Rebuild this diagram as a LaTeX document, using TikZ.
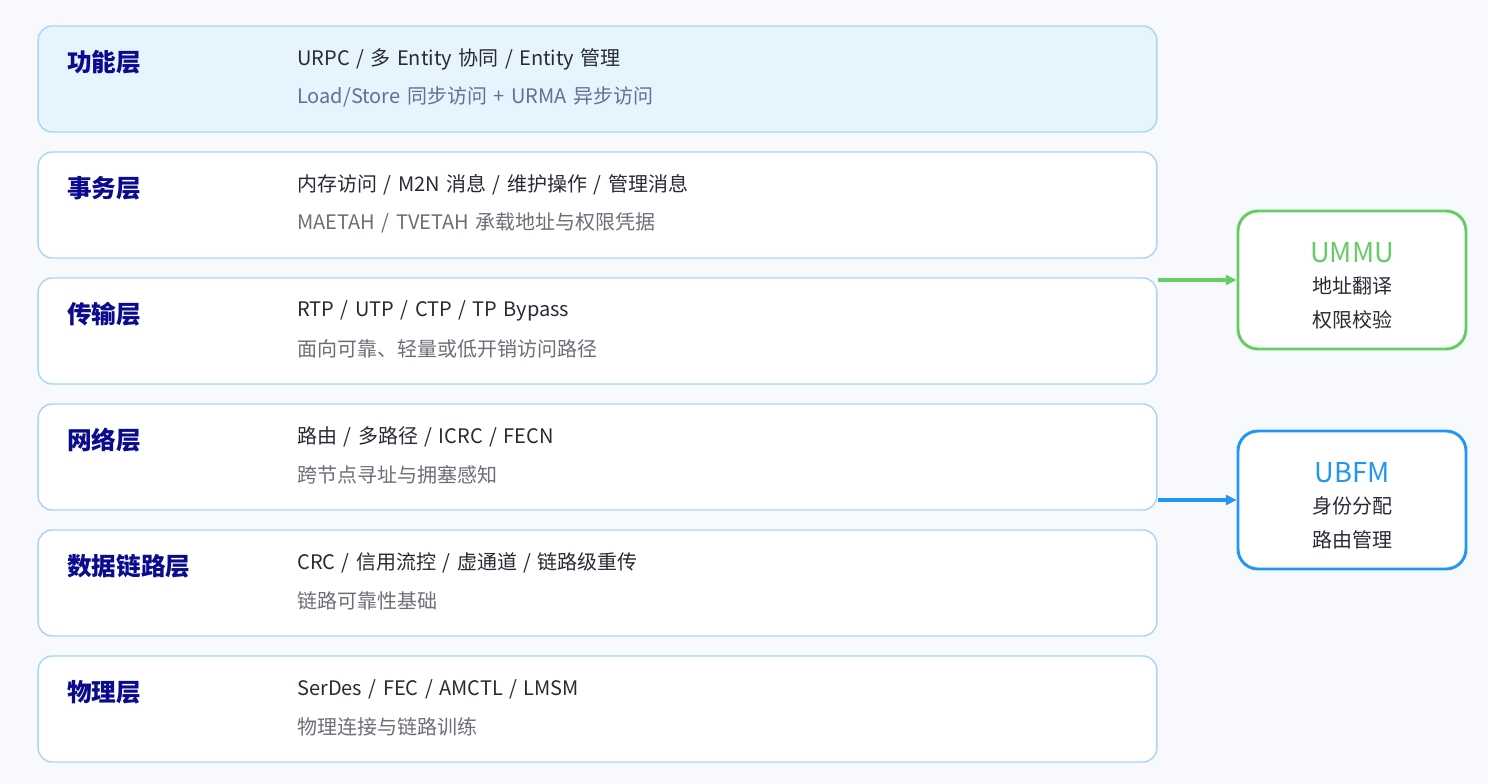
\documentclass[tikz,border=0pt]{standalone}
\usepackage{fontspec}
\setmainfont{Noto Sans CJK SC}[WordSpace=1.45]
\usetikzlibrary{arrows.meta}

\definecolor{bgcol}{HTML}{F8F9FC}
\definecolor{layerline}{HTML}{A9D5F7}
\definecolor{topfill}{HTML}{E6F4FE}
\definecolor{titlecol}{HTML}{0B0B8F}
\definecolor{maincol}{HTML}{2A2A35}
\definecolor{subcol}{HTML}{6E6E78}
\definecolor{subblue}{HTML}{5B7394}
\definecolor{ummucol}{HTML}{66CC66}
\definecolor{ubfmcol}{HTML}{2196F3}

\tikzset{
  layerbox/.style={draw=layerline, line width=1.1pt, fill=white, rounded corners=10.5pt,
    minimum width=839pt, minimum height=79.5pt, inner sep=0pt},
  layertitle/.style={anchor=west, font=\fontsize{18.5}{20}\selectfont\bfseries, text=titlecol, inner sep=0pt},
  layermain/.style={anchor=west, font=\fontsize{15}{17}\selectfont, text=maincol, inner sep=0pt},
  layersub/.style={anchor=west, font=\fontsize{15}{17}\selectfont, text=subcol, inner sep=0pt},
  unitbox/.style={line width=2.2pt, fill=white, rounded corners=15pt,
    minimum width=171pt, minimum height=103.5pt, inner sep=0pt},
  unitname/.style={font=\fontsize{20.5}{22}\selectfont, inner sep=0pt},
  unitline/.style={font=\fontsize{15}{17}\selectfont, text=maincol, inner sep=0pt},
  unitarrow/.style={line width=2.4pt, -{Triangle[length=8pt,width=7.5pt]}}
}

\begin{document}
\begin{tikzpicture}[x=0.75pt, y=-0.75pt]
% background, same size as the reference
\fill[bgcol] (0,0) rectangle (1488,784);
\useasboundingbox (0,0) rectangle (1488,784);

% the six layers
\node[layerbox, fill=topfill] (func) at (597.5,79) {};
\node[layertitle] (funct) at (67,62) {功能层};
\node[layermain] (func1) at (297,59) {URPC / 多 Entity 协同 / Entity 管理};
\node[layersub, text=subblue] (func2) at (297,97) {Load/Store 同步访问 + URMA 异步访问};

\node[layerbox] (trx) at (597.5,205) {};
\node[layertitle] (trxt) at (67,188) {事务层};
\node[layermain] (trx1) at (297,185) {内存访问 / M2N 消息 / 维护操作 / 管理消息};
\node[layersub] (trx2) at (297,223) {MAETAH / TVETAH 承载地址与权限凭据};

\node[layerbox] (trans) at (597.5,331) {};
\node[layertitle] (transt) at (67,314) {传输层};
\node[layermain] (trans1) at (297,311) {RTP / UTP / CTP / TP Bypass};
\node[layersub] (trans2) at (297,349) {面向可靠、轻量或低开销访问路径};

\node[layerbox] (net) at (597.5,457) {};
\node[layertitle] (nett) at (67,440) {网络层};
\node[layermain] (net1) at (297,437) {路由 / 多路径 / ICRC / FECN};
\node[layersub] (net2) at (297,475) {跨节点寻址与拥塞感知};

\node[layerbox] (link) at (597.5,583) {};
\node[layertitle] (linkt) at (67,566) {数据链路层};
\node[layermain] (link1) at (297,563) {CRC / 信用流控 / 虚通道 / 链路级重传};
\node[layersub] (link2) at (297,601) {链路可靠性基础};

\node[layerbox] (phy) at (597.5,709) {};
\node[layertitle] (phyt) at (67,692) {物理层};
\node[layermain] (phy1) at (297,689) {SerDes / FEC / AMCTL / LMSM};
\node[layersub] (phy2) at (297,727) {物理连接与链路训练};

% side units
\node[unitbox, draw=ummucol] (ummu) at (1352,280) {};
\node[unitname, text=ummucol] (ummut) at (1352,253) {UMMU};
\node[unitline] (ummu1) at (1352,286) {地址翻译};
\node[unitline] (ummu2) at (1352,320) {权限校验};

\node[unitbox, draw=ubfmcol] (ubfm) at (1352,500) {};
\node[unitname, text=ubfmcol] (ubfmt) at (1352,473) {UBFM};
\node[unitline] (ubfm1) at (1352,506) {身份分配};
\node[unitline] (ubfm2) at (1352,540) {路由管理};

% arrows
\draw[unitarrow, ummucol] (ummu.west -| trans.east) -- (ummu.west);
\draw[unitarrow, ubfmcol] (ubfm.west -| net.east) -- (ubfm.west);
\end{tikzpicture}
\end{document}
